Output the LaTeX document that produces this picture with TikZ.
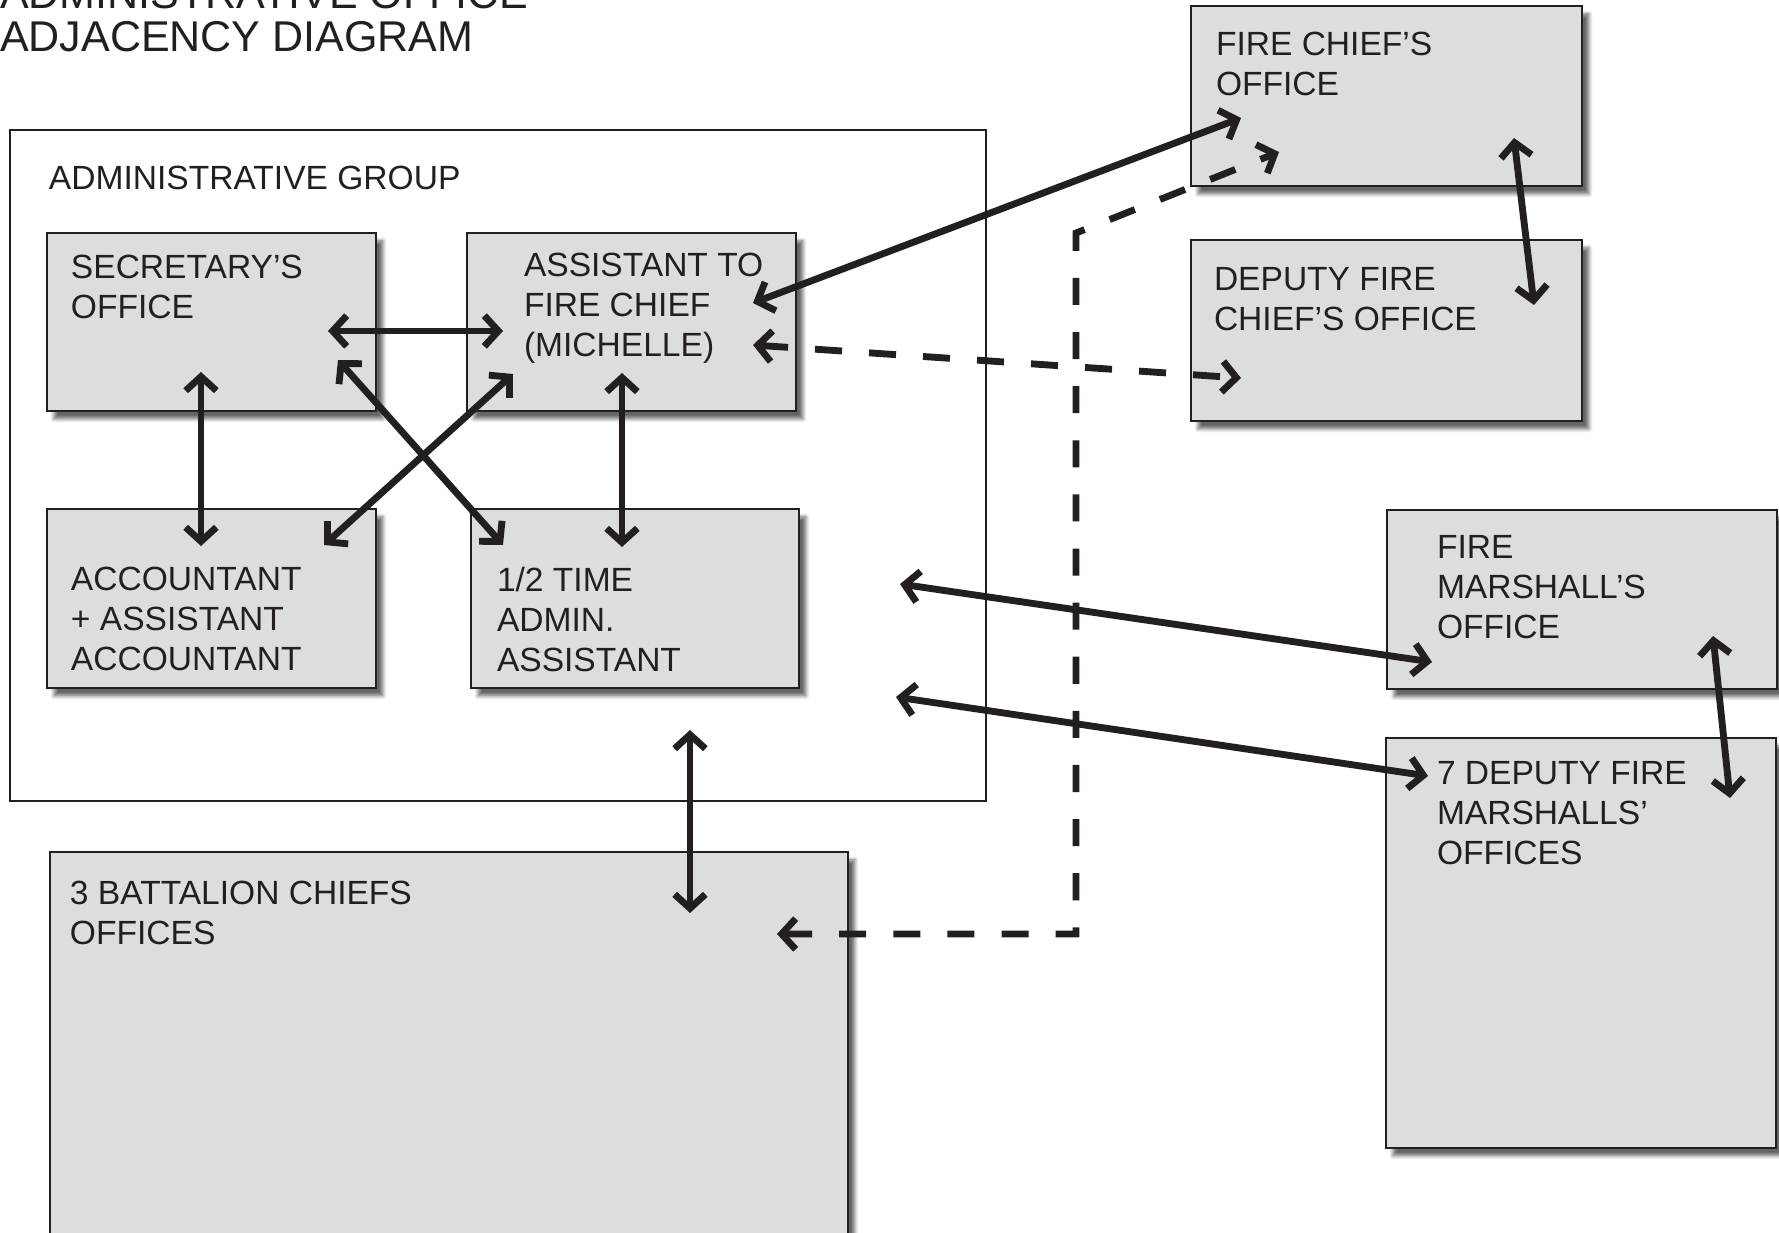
\documentclass[tikz,border=0pt]{standalone}
\usepackage{fontspec}
\setmainfont{Liberation Sans}
\usetikzlibrary{arrows.meta,shadows.blur,positioning}
\definecolor{ink}{HTML}{231F20}
\definecolor{roomgray}{HTML}{DCDDDF}

\begin{document}
\begin{tikzpicture}[
  x=0.02cm, y=-0.02cm,
  every node/.style={inner sep=0pt, outer sep=0pt},
  office/.style n args={2}{draw=ink, line width=1.4pt, fill=roomgray, anchor=north west,
    minimum width=#1*0.5690pt, minimum height=#2*0.5690pt,
    blur shadow={shadow xshift=4pt, shadow yshift=-4.5pt, shadow blur steps=6, shadow opacity=60}},
  label/.style={anchor=north west, align=left, text=ink, font=\fontsize{19.1}{22.8}\selectfont},
  link/.style={draw=ink, line width=3.9pt,
    {Straight Barb[length=8pt,width=17.5pt]}-{Straight Barb[length=8pt,width=17.5pt]}},
  dlink/.style={link, dash pattern=on 15.4pt off 15.4pt}
]
\useasboundingbox (0,0) rectangle (1779,1233);

\node[anchor=north west, align=left, text=ink, font=\fontsize{24.5}{25}\selectfont] (title) at (0,-22)
  {ADMINISTRATIVE OFFICE\\ADJACENCY DIAGRAM};

\node[draw=ink, line width=1.1pt, anchor=north west, minimum width=976*0.5690pt, minimum height=671*0.5690pt] (grp) at (10,130) {};
\node[label] (grpT) at (49,166) {ADMINISTRATIVE GROUP};

\node[office={329}{178}] (sec) at (47,233) {};
\node[office={329}{178}] (asst) at (467,233) {};
\node[office={329}{179}] (acc) at (47,509) {};
\node[office={328}{179}] (half) at (471,509) {};
\node[office={391}{180}] (chief) at (1191,6) {};
\node[office={391}{181}] (dep) at (1191,240) {};
\node[office={390}{179}] (fm) at (1387,510) {};
\node[office={390}{410}] (dfm) at (1386,738) {};
\node[office={798}{420}] (bat) at (50,852) {};

\node[label] at (71,255) {SECRETARY’S\\OFFICE};
\node[label] at (524,253) {ASSISTANT TO\\FIRE CHIEF\\(MICHELLE)};
\node[label] at (71,567) {ACCOUNTANT\\+ ASSISTANT\\ACCOUNTANT};
\node[label] at (497,567) {1/2 TIME\\ADMIN.\\ASSISTANT};
\node[label] at (1216,32) {FIRE CHIEF’S\\OFFICE};
\node[label] at (1214,267) {DEPUTY FIRE\\CHIEF’S OFFICE};
\node[label] at (1437,535) {FIRE\\MARSHALL’S\\OFFICE};
\node[label] at (1437,761) {7 DEPUTY FIRE\\MARSHALLS’\\OFFICES};
\node[label] at (70,881) {3 BATTALION CHIEFS\\OFFICES};

\coordinate (secE) at (328,331);   \coordinate (asstW) at (503,331);
\coordinate (secS) at (201,372);   \coordinate (accN) at (201,546);
\coordinate (asstS) at (622,373);  \coordinate (halfN) at (622,547);
\coordinate (secSE) at (338,360);  \coordinate (halfNW) at (503,545);
\coordinate (asstSW) at (513,374); \coordinate (accNE) at (324,545);
\coordinate (asstE) at (753,303);  \coordinate (chiefW) at (1241,118);
\coordinate (chiefS) at (1514,138); \coordinate (depN) at (1534,305);
\coordinate (asstE2) at (753,345); \coordinate (depW) at (1241,378);
\coordinate (batE) at (777,934);   \coordinate (bend1) at (1076,934);
\coordinate (bend2) at (1076,233); \coordinate (chiefSW) at (1279,152);
\coordinate (grpS) at (690,730);   \coordinate (batN) at (690,913);
\coordinate (grpE1) at (900,584);  \coordinate (fmW) at (1432,662);
\coordinate (grpE2) at (896,697);  \coordinate (dfmW) at (1428,776);
\coordinate (fmS) at (1713,636);   \coordinate (dfmN) at (1730,798);

\draw[link] (secE) -- (asstW);
\draw[link] (secS) -- (accN);
\draw[link] (asstS) -- (halfN);
\draw[link] (secSE) -- (halfNW);
\draw[link] (asstSW) -- (accNE);
\draw[link] (asstE) -- (chiefW);
\draw[link] (chiefS) -- (depN);
\draw[dlink] (asstE2) -- (depW);
\draw[dlink] (batE) -- (bend1) -- (bend2) -- (chiefSW);
\draw[link] (grpS) -- (batN);
\draw[link] (grpE1) -- (fmW);
\draw[link] (grpE2) -- (dfmW);
\draw[link] (fmS) -- (dfmN);
\end{tikzpicture}
\end{document}
